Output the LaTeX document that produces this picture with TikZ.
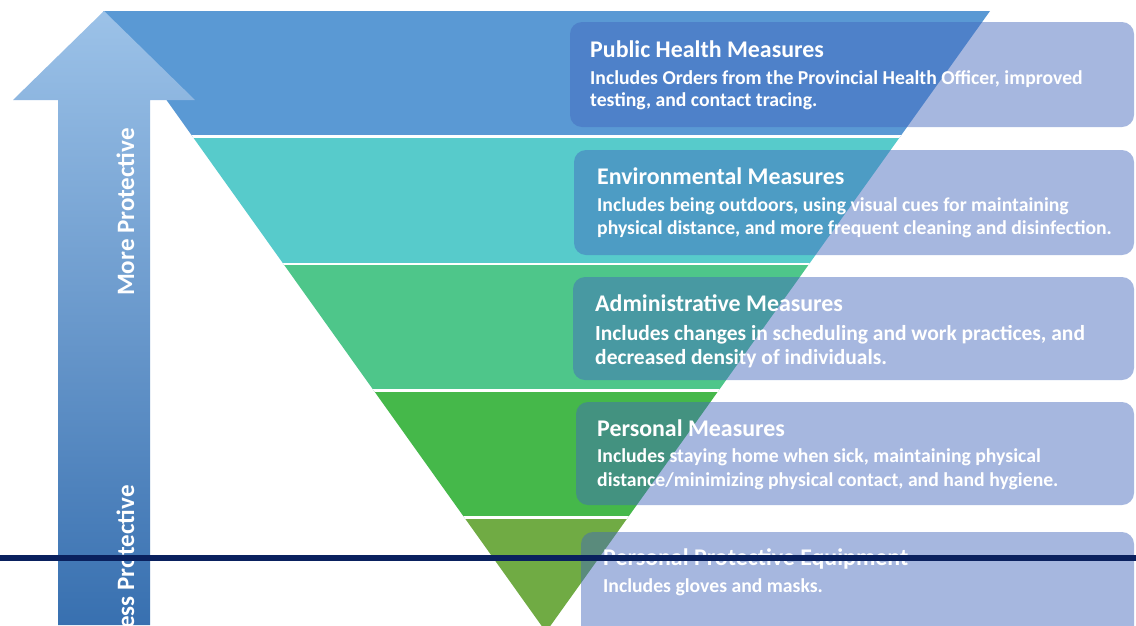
\documentclass[tikz,border=0pt]{standalone}
\usepackage{fontspec}
\setmainfont{Carlito}
\definecolor{bandA}{HTML}{5A99D4}
\definecolor{bandB}{HTML}{57CBCB}
\definecolor{bandC}{HTML}{4EC68A}
\definecolor{bandD}{HTML}{45B84A}
\definecolor{bandE}{HTML}{70AB44}
\definecolor{boxblue}{RGB}{66,104,189}
\definecolor{arrowtop}{HTML}{9CC2E8}
\definecolor{arrowbot}{HTML}{3870B0}
\definecolor{navyline}{HTML}{0A215E}
\begin{document}
\begin{tikzpicture}[x=1pt,y=-1pt,
  titletext/.style={anchor=base west, font=\bfseries\fontsize{23.9}{28}\selectfont, text=white, inner sep=0pt},
  bodytext/.style={anchor=base west, font=\bfseries\fontsize{19.7}{23}\selectfont, text=white, inner sep=0pt},
  widebody/.style={bodytext, font=\bfseries\fontsize{21.5}{25}\selectfont},
  sidetext/.style={rotate=90, font=\bfseries\fontsize{25}{29}\selectfont, text=white, inner sep=0pt},
  infobox/.style={fill=boxblue, fill opacity=0.47, rounded corners=12pt},
  divider/.style={white, line width=2.5pt}]
\useasboundingbox (0,0) rectangle (1136,625);
\fill[white] (0,0) rectangle (1136,625);
% inverted triangle
\coordinate (TL) at (103,11);
\coordinate (TR) at (990,11);
\coordinate (AP) at (546,632);
\begin{scope}
  \clip (TL) -- (TR) -- (AP) -- cycle;
  \fill[bandA] (0,0) rectangle (1136,137);
  \fill[bandB] (0,137) rectangle (1136,264);
  \fill[bandC] (0,264) rectangle (1136,391);
  \fill[bandD] (0,391) rectangle (1136,518);
  \fill[bandE] (0,518) rectangle (1136,640);
  \draw[divider] (0,136.5) -- (1136,136.5);
  \draw[divider] (0,264) -- (1136,264);
  \draw[divider] (0,390.5) -- (1136,390.5);
  \draw[divider] (0,517.5) -- (1136,517.5);
\end{scope}
% boxes
\path[infobox] (570,22) rectangle (1134,127);
\path[infobox] (574,150) rectangle (1134,255);
\path[infobox] (573,277) rectangle (1134,380);
\path[infobox] (576,402) rectangle (1134,505);
\path[infobox] (581,532) rectangle (1134,645);
% arrow
\shade[top color=arrowtop, bottom color=arrowbot]
  (104,11) -- (195,100) -- (150,100) -- (150,625) -- (58,625) -- (58,100) -- (13,100) -- cycle;
\node[sidetext, anchor=base] (more) at (134,212) {More Protective};
\node[sidetext, anchor=base east] (less) at (134,485) {Less Protective};
% texts
\node[titletext] (t1) at (590,57) {Public Health Measures};
\node[bodytext] (b1a) at (590,84) {Includes Orders from the Provincial Health Officer, improved};
\node[bodytext] (b1b) at (590,106) {testing, and contact tracing.};
\node[titletext] (t2) at (597,184) {Environmental Measures};
\node[bodytext] (b2a) at (597,211) {Includes being outdoors, using visual cues for maintaining};
\node[bodytext] (b2b) at (597,234) {physical distance, and more frequent cleaning and disinfection.};
\node[titletext] (t3) at (595,311) {Administrative Measures};
\node[widebody] (b3a) at (595,340) {Includes changes in scheduling and work practices, and};
\node[widebody] (b3b) at (595,364) {decreased density of individuals.};
\node[titletext] (t4) at (597,436) {Personal Measures};
\node[bodytext] (b4a) at (597,462) {Includes staying home when sick, maintaining physical};
\node[bodytext] (b4b) at (597,486) {distance/minimizing physical contact, and hand hygiene.};
\node[titletext] (t5) at (603,565) {Personal Protective Equipment};
\node[bodytext] (b5a) at (603,592) {Includes gloves and masks.};
% navy rule
\draw[navyline, line width=6pt] (0,558) -- (1136,558);
\end{tikzpicture}
\end{document}
